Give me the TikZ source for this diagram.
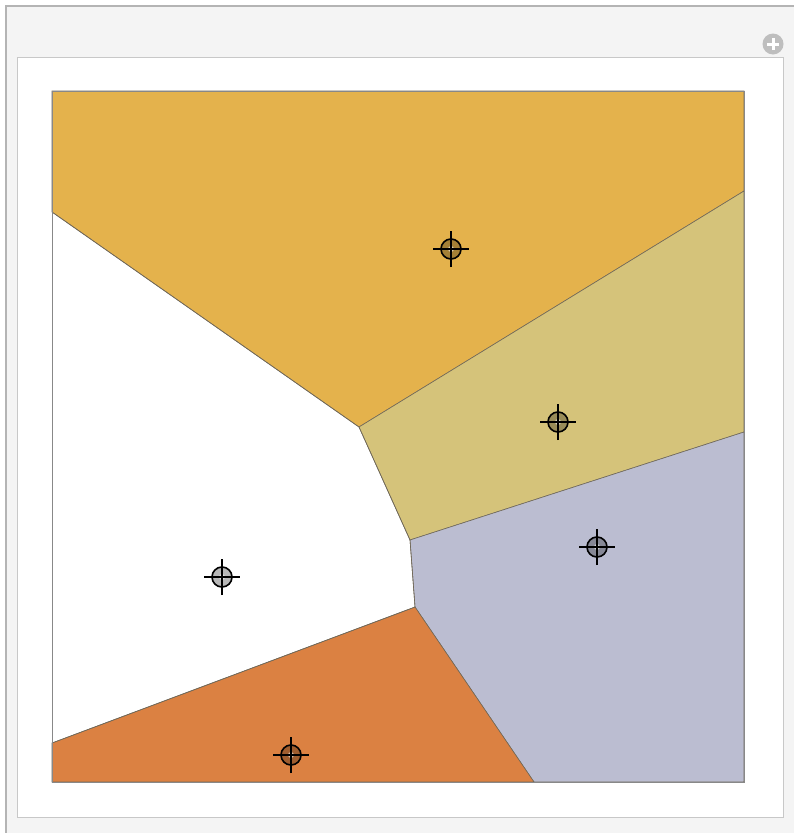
\documentclass[tikz,border=0pt]{standalone}
\usepackage{xcolor}
\usepackage{tikz}
\usetikzlibrary{positioning}
\definecolor{FrameGray}{RGB}{180, 180, 180}
\definecolor{PaneGray}{RGB}{244, 244, 244}
\definecolor{PanelEdge}{RGB}{200, 200, 200}
\definecolor{AxisGray}{RGB}{136, 136, 136}
\definecolor{EdgeGray}{RGB}{112, 104, 88}
\definecolor{GoldCell}{RGB}{228, 178, 76}
\definecolor{KhakiCell}{RGB}{213, 195, 122}
\definecolor{LavenderCell}{RGB}{187, 189, 209}
\definecolor{OrangeCell}{RGB}{219, 129, 66}
\definecolor{IconGray}{RGB}{190, 190, 190}
\tikzset{
    cell/.style={draw=EdgeGray, line width=0.6pt},
    seedring/.style={circle, draw=black, line width=1.6pt, fill=black, fill opacity=0.28, minimum size=20pt, inner sep=0pt},
    seeddot/.style={circle, fill=white, fill opacity=0.6, minimum size=6pt, inner sep=0pt},
    crosshair/.style={black, line width=1.6pt},
}

\begin{document}
\begin{tikzpicture}[x=1pt, y=-1pt]
    \useasboundingbox (0,0) rectangle (793,833);
    % window frame and panel
    \fill[white] (0,0) rectangle (793,833);
    \fill[PaneGray] (6,6) rectangle (800,840);
    \draw[FrameGray, line width=2pt] (6,840) -- (6,6) -- (800,6);
    \draw[PanelEdge, line width=1.5pt, fill=white] (17.5,57.5) rectangle (783.5,817.5);
    \node[circle, fill=IconGray, minimum size=21pt, inner sep=0pt] (plus) at (773,44) {};
    \draw[white, line width=3pt] ([xshift=-6pt]plus.center) -- ([xshift=6pt]plus.center);
    \draw[white, line width=3pt] ([yshift=-6pt]plus.center) -- ([yshift=6pt]plus.center);
    % cells
    \coordinate (a) at (359,427);
    \coordinate (b) at (410,540);
    \coordinate (c) at (415,607);
    \filldraw[cell, fill=GoldCell] (52,91) -- (744,91) -- (744,191) -- (a) -- (52,212) -- cycle;
    \filldraw[cell, fill=KhakiCell] (744,191) -- (a) -- (b) -- (744,432) -- cycle;
    \filldraw[cell, fill=LavenderCell] (b) -- (744,432) -- (744,782) -- (534,782) -- (c) -- cycle;
    \filldraw[cell, fill=OrangeCell] (52,743) -- (c) -- (534,782) -- (52,782) -- cycle;
    \draw[cell] (52,212) -- (a) -- (b) -- (c) -- (52,743);
    \draw[AxisGray, line width=0.8pt] (52,91) rectangle (744,782);
    % seeds
    \foreach \sx/\sy/\sn in {451/249/s1, 558/422/s2, 222/577/s3, 597/547/s4, 291/755/s5}{
        \node[seedring] (\sn) at (\sx,\sy) {};
        \node[seeddot] at (\sn.center) {};
        \draw[crosshair] ([xshift=-18pt]\sn.center) -- ([xshift=18pt]\sn.center);
        \draw[crosshair] ([yshift=-18pt]\sn.center) -- ([yshift=18pt]\sn.center);
    }
\end{tikzpicture}
\end{document}
